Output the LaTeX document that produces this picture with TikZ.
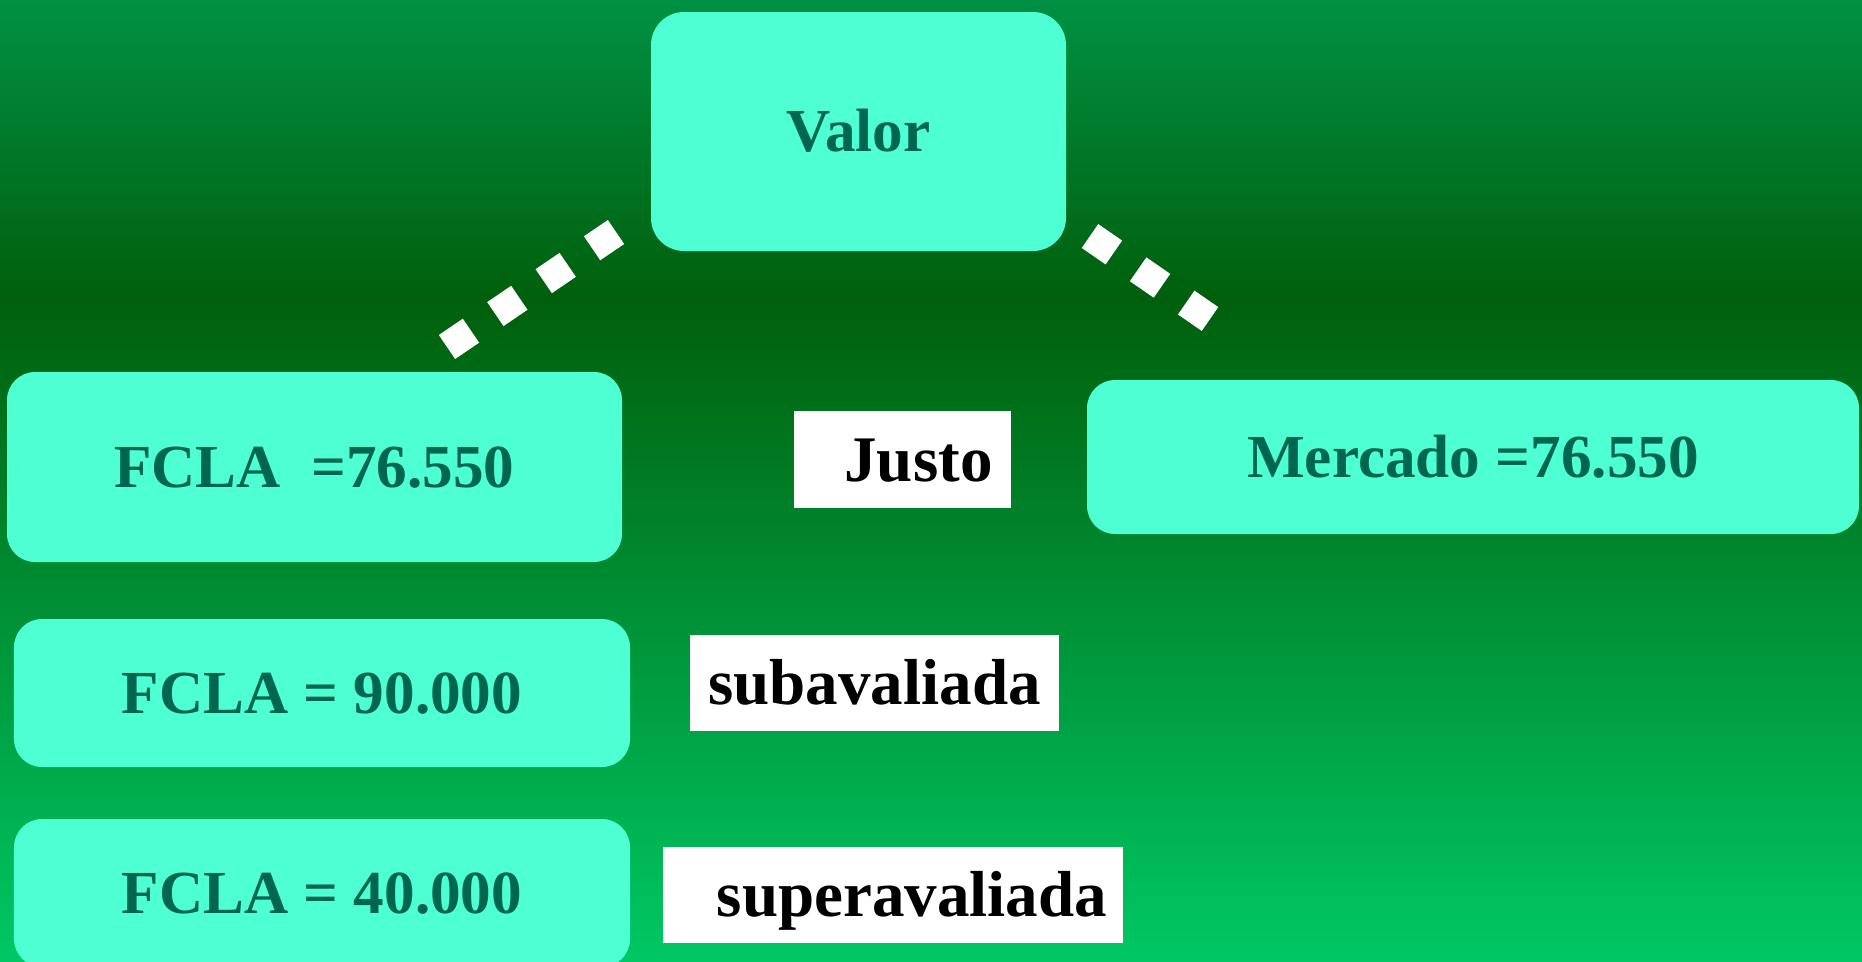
\documentclass[tikz,border=0pt]{standalone}
\usepackage{fontspec}
\setmainfont{Liberation Serif}
\usepackage{tikz}

\definecolor{bgtop}{RGB}{0,145,68}
\definecolor{bgdark}{RGB}{0,95,12}
\definecolor{bgbot}{RGB}{0,200,100}
\definecolor{boxfill}{RGB}{77,255,210}
\definecolor{boxtext}{RGB}{0,102,80}

% darkest band about a third of the way down
\pgfdeclareverticalshading{bgshade}{100bp}{color(0bp)=(bgbot); color(25bp)=(bgbot); color(59.4bp)=(bgdark); color(75bp)=(bgtop); color(100bp)=(bgtop)}

\tikzset{
  valuebox/.style={fill=boxfill, text=boxtext, rounded corners=0.28cm, inner sep=0pt,
    text height=0.40cm, text depth=0pt, font=\fontsize{17.4pt}{20pt}\selectfont\bfseries},
  verdict/.style={fill=white, text=black, inner sep=0pt,
    text height=0.43cm, text depth=0pt, font=\fontsize{18.5pt}{22pt}\selectfont\bfseries},
  dots/.style={white, line width=0.29cm, dash pattern=on 0.29cm off 0.295cm}
}

\begin{document}
\begin{tikzpicture}
    \useasboundingbox (0, 0) rectangle (18.62, -9.61);
    \clip (0, 0) rectangle (18.62, -9.61);
    \shade[shading=bgshade] (0, 0) rectangle (18.62, -9.61);

    \node[valuebox, minimum width=4.15cm, minimum height=2.39cm, rounded corners=0.33cm] (valor) at (8.585, -1.315) {Valor};
    \node[valuebox, minimum width=6.15cm, minimum height=1.90cm] (fclajusto) at (3.145, -4.67) {FCLA\ \ =76.550};
    \node[valuebox, minimum width=7.72cm, minimum height=1.54cm] (mercado) at (14.73, -4.57) {Mercado =76.550};
    \node[valuebox, minimum width=6.16cm, minimum height=1.48cm] (fclasub) at (3.22, -6.93) {FCLA = 90.000};
    \node[valuebox, minimum width=6.16cm, minimum height=1.48cm] (fclasuper) at (3.22, -8.93) {FCLA = 40.000};

    \node[verdict, minimum width=2.17cm, minimum height=0.97cm] (justo) at (9.025, -4.595) {\hspace*{0.32cm}Justo};
    \node[verdict, minimum width=3.69cm, minimum height=0.96cm] (subav) at (8.745, -6.83) {subavaliada};
    \node[verdict, minimum width=4.60cm, minimum height=0.96cm] (superav) at (8.93, -8.95) {\hspace*{0.38cm}superavaliada};

    \coordinate (leftlow) at (4.47, -3.47);
    \coordinate (lefthigh) at (6.16, -2.32);
    \coordinate (righthigh) at (10.90, -2.36);
    \coordinate (rightlow) at (12.10, -3.19);
    \draw[dots] (leftlow) -- (lefthigh);
    \draw[dots] (righthigh) -- (rightlow);
\end{tikzpicture}
\end{document}
